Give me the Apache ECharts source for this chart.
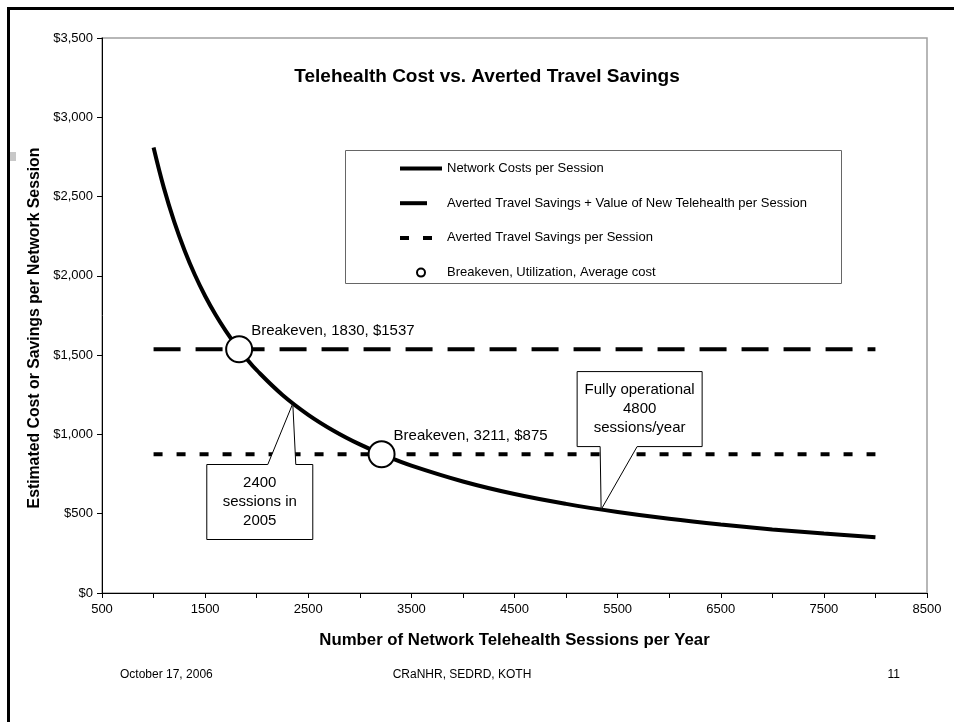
<!DOCTYPE html>
<html><head><meta charset="utf-8">
<script src="https://cdn.jsdelivr.net/npm/echarts@6/dist/echarts.min.js"></script>
<style>html,body{margin:0;padding:0;background:#fff}#c{width:954px;height:722px}</style>
</head><body><div id="c"></div>
<script>
// ---- data ----
const sessions = [1000,1100,1200,1300,1400,1500,1600,1700,1800,1900,2000,2250,2500,2750,3000,3250,3500,4000,4500,5000,5500,6000,6500,7000,7500,8000];
const networkCost = [2810,2555,2342,2162,2007,1873,1756,1653,1561,1479,1405,1249,1124,1022,937,865,803,703,624,562,511,468,432,401,375,351];
const flatLineSessions = [1000, 8000];
const travelPlusValue = [1537, 1537];
const travelSavings = [875, 875];
const breakevenSessions = [1830, 3211];
const breakevenCost = [1537, 875];
const seriesNames = ['Network Costs per Session','Averted Travel Savings + Value of New Telehealth per Session','Averted Travel Savings per Session','Breakeven, Utilization, Average cost'];
const calloutTips = [[2350, 1195], [5340, 526]];
const calloutTexts = [['2400','sessions in','2005'], ['Fully operational','4800','sessions/year']];
const footerTexts = ['October 17, 2006', 'CRaNHR, SEDRD, KOTH', '11'];

const FONT = "'Liberation Sans', Arial, sans-serif";
const chart = echarts.init(document.getElementById('c'), null, {renderer:'canvas'});

const hideSymbol = {opacity: 0, color: 'rgba(0,0,0,0)', borderWidth: 0};
const option = {
  animation: false,
  backgroundColor: '#fff',
  title: {
    text: 'Telehealth Cost vs. Averted Travel Savings',
    left: 487, top: 67, textAlign: 'center', padding: 0,
    textStyle: {fontFamily: FONT, fontSize: 19, fontWeight: 'bold', color: '#000'}
  },
  grid: {left: 102, right: 27, top: 38, bottom: 129, show: true, borderColor: '#a0a0a0', borderWidth: 1.5, backgroundColor: 'transparent'},
  legend: {
    orient: 'vertical', left: 398, top: 161.5, padding: 0,
    itemWidth: 42, itemHeight: 8, itemGap: 20.7,
    selectedMode: false,
    textStyle: {fontFamily: FONT, fontSize: 13, color: '#000', lineHeight: 14},
    lineStyle: {width: 4},
    data: [
      {name: seriesNames[0], itemStyle: hideSymbol},
      {name: seriesNames[1], itemStyle: hideSymbol},
      {name: seriesNames[2], itemStyle: hideSymbol},
      {name: seriesNames[3], itemStyle: {color: '#000', borderColor: '#000', borderWidth: 1}}
    ]
  },
  xAxis: {
    type: 'value', min: 500, max: 8500, interval: 500,
    axisLine: {show: true, onZero: false, lineStyle: {color: '#000', width: 1}},
    axisTick: {show: true, length: 5, lineStyle: {color: '#000'}},
    axisLabel: {fontFamily: FONT, fontSize: 13, color: '#000', margin: 10,
      formatter: v => ((v - 500) % 1000 === 0 ? String(v) : '')},
    splitLine: {show: false},
    name: 'Number of Network Telehealth Sessions per Year',
    nameLocation: 'middle', nameGap: 39,
    nameTextStyle: {fontFamily: FONT, fontSize: 16.8, fontWeight: 'bold', color: '#000'}
  },
  yAxis: {
    type: 'value', min: 0, max: 3500, interval: 500,
    axisLine: {show: true, lineStyle: {color: '#000', width: 1}},
    axisTick: {show: true, length: 5, lineStyle: {color: '#000'}},
    axisLabel: {fontFamily: FONT, fontSize: 13, color: '#000', margin: 9,
      formatter: v => '$' + v.toLocaleString('en-US')},
    splitLine: {show: false},
    name: 'Estimated Cost or Savings per Network Session',
    nameLocation: 'middle', nameGap: 49,
    nameTextStyle: {fontFamily: FONT, fontSize: 15.8, fontWeight: 'bold', color: '#000', padding: [0, 25, 0, 0]}
  },
  series: [
    {name: seriesNames[0], type: 'line', smooth: 0.4, symbol: 'none',
     data: sessions.map((s, i) => [s, networkCost[i]]),
     lineStyle: {color: '#000', width: 4}, itemStyle: {color: '#000'}, z: 3},
    {name: seriesNames[1], type: 'line', symbol: 'none',
     data: flatLineSessions.map((s, i) => [s, travelPlusValue[i]]),
     lineStyle: {color: '#000', width: 4, type: [27, 15], cap: 'butt'}, itemStyle: {color: '#000'}, z: 2},
    {name: seriesNames[2], type: 'line', symbol: 'none',
     data: flatLineSessions.map((s, i) => [s, travelSavings[i]]),
     lineStyle: {color: '#000', width: 4, type: [9, 14], cap: 'butt'}, itemStyle: {color: '#000'}, z: 2},
    {name: seriesNames[3], type: 'scatter', symbol: 'emptyCircle', symbolSize: 26,
     data: breakevenSessions.map((s, i) => [s, breakevenCost[i]]),
     itemStyle: {color: '#000', borderColor: '#000', borderWidth: 1, opacity: 1},
     label: {show: true, position: [26, -4], align: 'left', verticalAlign: 'middle',
       fontFamily: FONT, fontSize: 15, color: '#000',
       formatter: p => 'Breakeven, ' + p.value[0] + ', $' + p.value[1]},
     z: 4}
  ]
};
chart.setOption(option);

// ---- annotation layout (pixel offsets relative to the pointed data point) ----
const calloutBoxes = [
  {l: -86, r: 20, t: 61, b: 136, b1: -25, b2: 3, side: 'top'},
  {l: -24, r: 101, t: -138, b: -63, b1: -1, b2: 36, side: 'bottom'}
];
const graphics = [];
calloutTips.forEach((tip, i) => {
  const p = chart.convertToPixel({gridIndex: 0}, tip);
  const g = calloutBoxes[i];
  const L = p[0] + g.l, R = p[0] + g.r, T = p[1] + g.t, B = p[1] + g.b;
  const b1 = p[0] + g.b1, b2 = p[0] + g.b2;
  let pts;
  if (g.side === 'top') pts = [[L,T],[b1,T],[p[0],p[1]],[b2,T],[R,T],[R,B],[L,B]];
  else pts = [[L,T],[R,T],[R,B],[b2,B],[p[0],p[1]],[b1,B],[L,B]];
  graphics.push({type: 'polygon', shape: {points: pts}, style: {fill: '#fff', stroke: '#000', lineWidth: 1}, z: 10});
  graphics.push({type: 'text', x: (L + R) / 2, y: (T + B) / 2, z: 11,
    style: {text: calloutTexts[i].join('\n'), fill: '#000', font: '15px ' + FONT, align: 'center', verticalAlign: 'middle', lineHeight: 19}});
});
// legend frame
graphics.push({type: 'rect', shape: {x: 345.5, y: 150.5, width: 496, height: 133}, style: {fill: 'none', stroke: '#666', lineWidth: 1}, z: 1});
// slide frame and marker
graphics.push({type: 'line', shape: {x1: 7, y1: 8.5, x2: 954, y2: 8.5}, style: {stroke: '#000', lineWidth: 3}, z: 20});
graphics.push({type: 'line', shape: {x1: 8.5, y1: 7, x2: 8.5, y2: 722}, style: {stroke: '#000', lineWidth: 3}, z: 20});
graphics.push({type: 'rect', shape: {x: 10, y: 152, width: 6, height: 9}, style: {fill: '#c8c8c8'}, z: 20});
// footer
graphics.push({type: 'text', x: 120, y: 675, style: {text: footerTexts[0], fill: '#000', font: '12px ' + FONT, align: 'left', verticalAlign: 'middle'}});
graphics.push({type: 'text', x: 462, y: 675, style: {text: footerTexts[1], fill: '#000', font: '12px ' + FONT, align: 'center', verticalAlign: 'middle'}});
graphics.push({type: 'text', x: 900, y: 675, style: {text: footerTexts[2], fill: '#000', font: '12px ' + FONT, align: 'right', verticalAlign: 'middle'}});
chart.setOption({graphic: graphics});
</script>
</body></html>
